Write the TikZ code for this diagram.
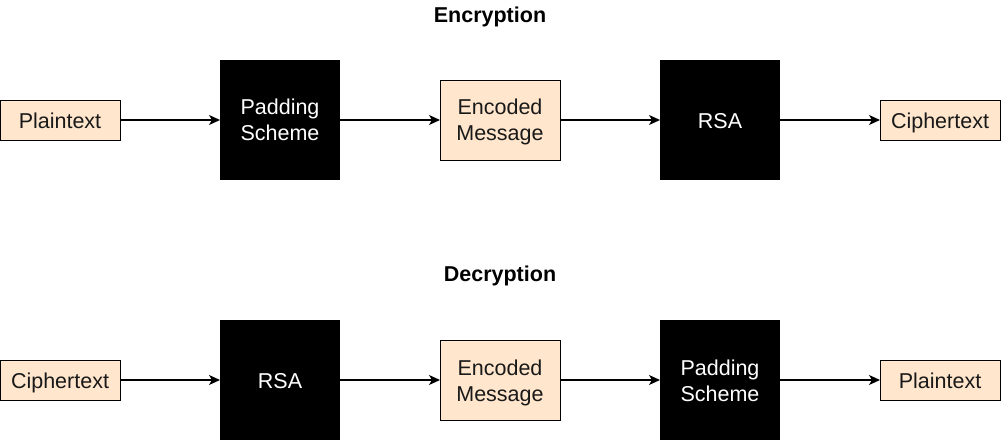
\documentclass[tikz,border=0pt]{standalone}
\usepackage{fontspec}
\setmainfont{Liberation Sans}
\usetikzlibrary{chains,arrows.meta}

\definecolor{peach}{HTML}{FFE6CC}

\begin{document}
\begin{tikzpicture}[x=1pt,y=1pt]
\tikzstyle{every node}=[font=\fontsize{21.5}{26}\selectfont,align=center]
\tikzstyle{msg}=[draw,fill=peach,line width=0.9pt,minimum width=120pt,
  minimum height=40pt,inner sep=0pt,outer sep=0pt,text=black!90,
  text height=16.5pt,text depth=0pt]
\tikzstyle{stage}=[fill=black,text=white,minimum width=120pt,
  minimum height=120pt,inner sep=0pt,outer sep=0pt,
  text height=16.5pt,text depth=0pt]
\tikzstyle{twoline}=[text height=42pt,text depth=0pt]
\tikzstyle{flow}=[->,>={Stealth[length=11pt,width=10pt,inset=3pt]},line width=1.4pt]

\useasboundingbox (0,0) rectangle (1001,-441);

%% Encryption row
\node[font=\fontsize{21.5}{26}\selectfont\bfseries] (enctitle) at (490,-17) {Encryption};
\begin{scope}[start chain=enc going right,node distance=100pt]
    \node [on chain=enc,msg] (plainA) at (60,-120) {Plaintext};
    \node [on chain=enc,stage,twoline] (padA) {Padding\\Scheme};
    \node [on chain=enc,msg,twoline,minimum height=80pt] (encodedA) {Encoded\\Message};
    \node [on chain=enc,stage] (rsaA) {RSA};
    \node [on chain=enc,msg] (cipherA) {Ciphertext};
\end{scope}
\draw[flow] (plainA) -- (padA);
\draw[flow] (padA) -- (encodedA);
\draw[flow] (encodedA) -- (rsaA);
\draw[flow] (rsaA) -- (cipherA);

%% Decryption row
\node[font=\fontsize{21.5}{26}\selectfont\bfseries] (dectitle) at (500,-276) {Decryption};
\begin{scope}[start chain=dec going right,node distance=100pt]
    \node [on chain=dec,msg] (cipherB) at (60,-380) {Ciphertext};
    \node [on chain=dec,stage] (rsaB) {RSA};
    \node [on chain=dec,msg,twoline,minimum height=80pt] (encodedB) {Encoded\\Message};
    \node [on chain=dec,stage,twoline] (padB) {Padding\\Scheme};
    \node [on chain=dec,msg] (plainB) {Plaintext};
\end{scope}
\draw[flow] (cipherB) -- (rsaB);
\draw[flow] (rsaB) -- (encodedB);
\draw[flow] (encodedB) -- (padB);
\draw[flow] (padB) -- (plainB);

\end{tikzpicture}
\end{document}
